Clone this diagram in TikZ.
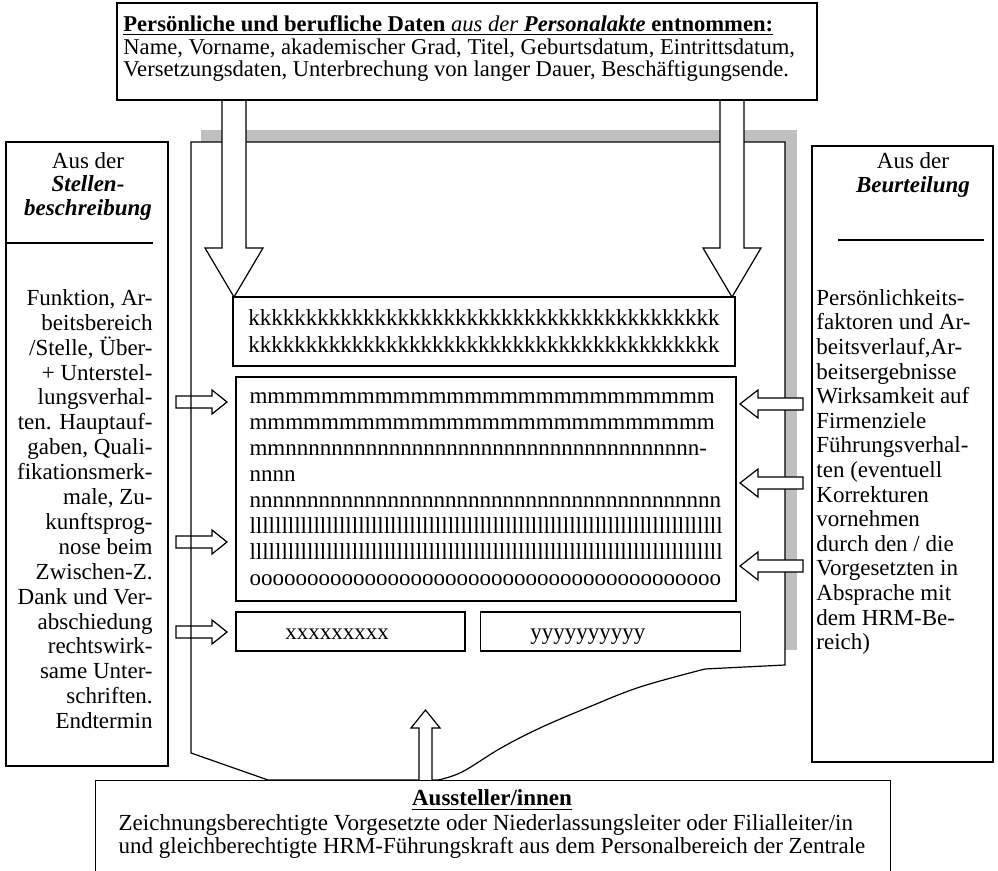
\documentclass[tikz,border=0pt]{standalone}
\usepackage{fontspec}
\setmainfont{Liberation Serif}
\usetikzlibrary{positioning}

\begin{document}
\begin{tikzpicture}[x=0.5pt, y=-0.5pt,
  box/.style={draw, line width=0.7pt, inner sep=0pt},
  txt/.style={inner sep=0pt, font=\fontsize{11.5}{11.5}\selectfont},
  blk/.style={draw, line width=0.6pt, line join=miter}]
  \useasboundingbox (0,0) rectangle (998,871);
  \clip (0,0) rectangle (998,871);

  \fill[gray!50] (201,130) rectangle (797,650);
  \draw[fill=white, line width=0.6pt] (191,142) -- (785,142) -- (785,665) -- (705,669)
    -- plot[smooth, tension=0.6] coordinates {(705,669) (640,687) (589,707) (540,728)
    (501,748) (462,772) (438,780)} -- (268,780) -- (191,753) -- cycle;

  \node[box, minimum width=251pt, minimum height=34.5pt, align=left,
    font=\fontsize{11.5}{13.5}\selectfont] (kbox) at (484,331.5)
    {kkkkkkkkkkkkkkkkkkkkkkkkkkkkkkkkkkkkkkkkk\\kkkkkkkkkkkkkkkkkkkkkkkkkkkkkkkkkkkkkkkkk};
  \node[box, minimum width=250pt, minimum height=112pt, align=left,
    font=\fontsize{11.5}{13}\selectfont] (mbox) at (486,489)
    {mmmmmmmmmmmmmmmmmmmmmmmmmm\\
     mmmmmmmmmmmmmmmmmmmmmmmmmm\\
     mmnnnnnnnnnnnnnnnnnnnnnnnnnnnnnnnnnnnn-\\
     nnnn\\
     nnnnnnnnnnnnnnnnnnnnnnnnnnnnnnnnnnnnnnnnn\\
     llllllllllllllllllllllllllllllllllllllllllllllllllllllllllllllllllllllllll\\
     llllllllllllllllllllllllllllllllllllllllllllllllllllllllllllllllllllllllll\\
     ooooooooooooooooooooooooooooooooooooooooo};
  \node[box, minimum width=114.5pt, minimum height=19.5pt] (xbox) at (350.5,631.5) {};
  \node[box, minimum width=130pt, minimum height=19.5pt, right=7pt of xbox] (ybox) {};
  \node[txt, anchor=base west] (xtxt) at (285,640) {xxxxxxxxx};
  \node[txt, anchor=base west] (ytxt) at (530,640) {yyyyyyyyyy};

  \node[box, minimum width=81pt, minimum height=312pt] (stelle) at (87,454) {};
  \draw[line width=0.7pt] (6,243) -- (153,243);
  \node[txt, anchor=north, align=center, font=\fontsize{11.5}{11.8}\selectfont]
    (stellekopf) at (88,152)
    {Aus der\\\textbf{\textit{Stellen-}}\\\textbf{\textit{beschreibung}}};
  \node[txt, anchor=north east, align=right, font=\fontsize{11.5}{12.45}\selectfont]
    (stelletxt) at (153,289)
    {Funktion, Ar-\\beitsbereich\\/Stelle, Über-\\+ Unterstel-\\lungsverhal-\\
     ten. Hauptauf-\\gaben, Quali-\\fikationsmerk-\\male, Zu-\\kunftsprog-\\
     nose beim\\Zwischen-Z.\\Dank und Ver-\\abschiedung\\rechtswirk-\\
     same Unter-\\schriften.\\Endtermin};

  \node[box, minimum width=90.5pt, minimum height=308pt] (beurt) at (902.5,454) {};
  \draw[line width=0.7pt] (838,240) -- (984,240);
  \node[txt, anchor=north, align=center, font=\fontsize{11.5}{12}\selectfont]
    (beurtkopf) at (913,152) {Aus der\\\textbf{\textit{Beurteilung}}};
  \node[txt, anchor=north west, align=left, font=\fontsize{11.5}{12.3}\selectfont]
    (beurttxt) at (816,289)
    {Persönlichkeits-\\faktoren und Ar-\\beitsverlauf,Ar-\\beitsergebnisse\\
     Wirksamkeit auf\\Firmenziele\\Führungsverhal-\\ten (eventuell\\Korrekturen\\
     vornehmen\\durch den / die\\Vorgesetzten in\\Absprache mit\\dem HRM-Be-\\reich)};

  \foreach \y in {402,542,632}
    \draw[blk] (176,\y-6) -- (212,\y-6) -- (212,\y-12) -- (227,\y)
      -- (212,\y+12) -- (212,\y+6) -- (176,\y+6) -- cycle;
  \foreach \y in {404,483,566}
    \draw[blk, fill=white] (803,\y-6) -- (758,\y-6) -- (758,\y-14) -- (740,\y)
      -- (758,\y+14) -- (758,\y+6) -- (803,\y+6) -- cycle;
  \foreach \x in {234,732}
    \draw[blk, fill=white] (\x-12,100) -- (\x-12,248) -- (\x-29,248) -- (\x,297)
      -- (\x+29,248) -- (\x+12,248) -- (\x+12,100);
  \draw[blk, fill=white] (419,780) -- (419,728) -- (411,728) -- (425.5,710)
    -- (440,728) -- (432,728) -- (432,780);

  \node[box, minimum width=350pt, minimum height=48.5pt] (akte) at (467,51.5) {};
  \node[txt, anchor=north west, align=left, font=\fontsize{11.3}{11.4}\selectfont]
    (aktetxt) at (123,15)
    {\underline{\textbf{Persönliche und berufliche Daten} \textit{aus der}
     \textbf{\textit{Personalakte}} \textbf{entnommen:}}\\
     Name, Vorname, akademischer Grad, Titel, Geburtsdatum, Eintrittsdatum,\\
     Versetzungsdaten, Unterbrechung von langer Dauer, Beschäftigungsende.};

  \node[box, minimum width=397.5pt, minimum height=60pt, anchor=north west]
    (aussteller) at (95,780) {};
  \node[txt, anchor=base] (ausstkopf) at (492,806) {\underline{\textbf{Aussteller/innen}}};
  \node[txt, anchor=north, align=left] (ausstxt) at (492,814)
    {Zeichnungsberechtigte Vorgesetzte oder Niederlassungsleiter oder Filialleiter/in\\
     und gleichberechtigte HRM-Führungskraft aus dem Personalbereich der Zentrale};
\end{tikzpicture}
\end{document}
